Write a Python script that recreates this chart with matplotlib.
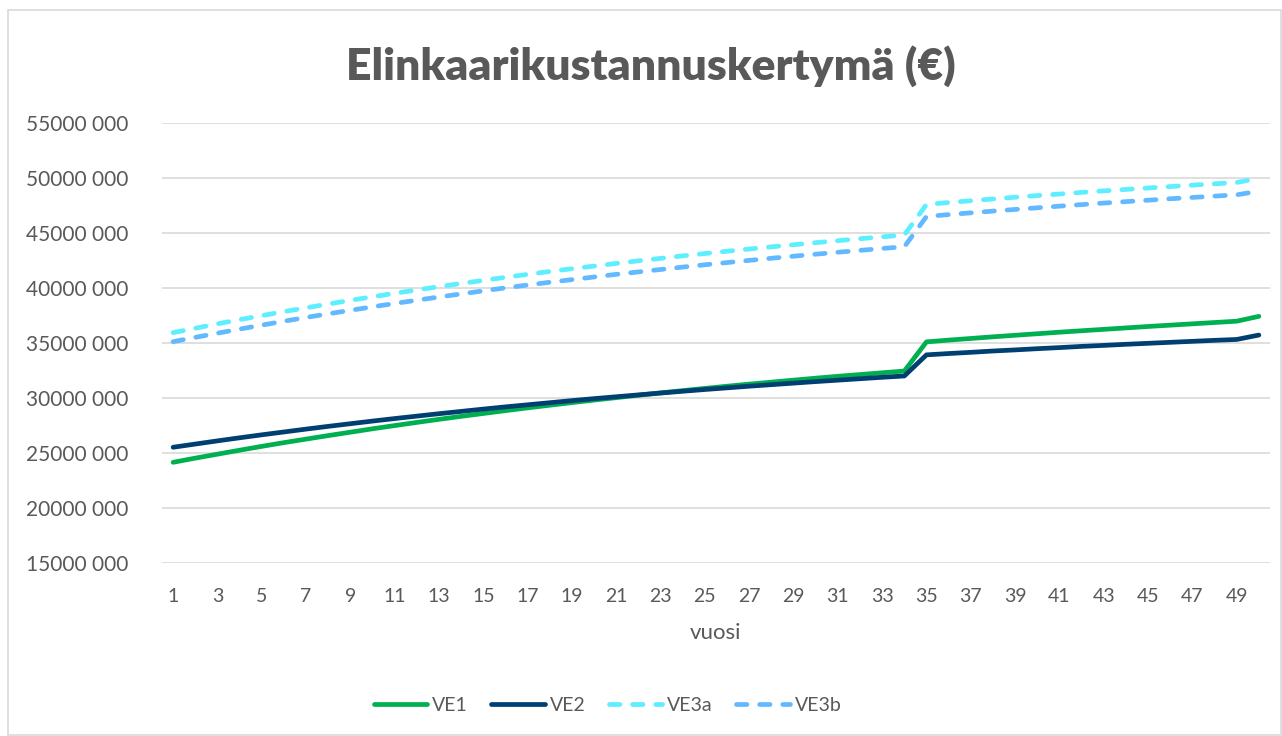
import matplotlib
matplotlib.use("Agg")
import matplotlib.pyplot as plt
from matplotlib.ticker import FuncFormatter, MultipleLocator
from matplotlib.patches import Rectangle

# vuosi 1..50, kertymä miljoonina euroina
years = list(range(1, 51))

VE1 = [24.15, 24.53, 24.89, 25.25, 25.60, 25.94, 26.26, 26.58, 26.89, 27.20,
       27.49, 27.78, 28.06, 28.33, 28.59, 28.85, 29.10, 29.34, 29.58, 29.81,
       30.03, 30.25, 30.46, 30.67, 30.87, 31.07, 31.26, 31.44, 31.62, 31.80,
       31.97, 32.13, 32.29, 32.45, 35.10, 35.26, 35.41, 35.56, 35.70, 35.84,
       35.98, 36.11, 36.24, 36.37, 36.50, 36.62, 36.74, 36.86, 36.98, 37.42]

VE2 = [25.52, 25.81, 26.10, 26.38, 26.65, 26.91, 27.17, 27.42, 27.66, 27.90,
       28.13, 28.35, 28.57, 28.78, 28.99, 29.19, 29.38, 29.57, 29.76, 29.94,
       30.11, 30.28, 30.45, 30.61, 30.77, 30.92, 31.07, 31.21, 31.35, 31.49,
       31.62, 31.75, 31.88, 32.00, 33.92, 34.04, 34.15, 34.27, 34.37, 34.48,
       34.58, 34.69, 34.78, 34.88, 34.97, 35.06, 35.15, 35.24, 35.32, 35.72]

VE3a = [35.94, 36.34, 36.74, 37.12, 37.49, 37.85, 38.20, 38.54, 38.88, 39.20,
        39.52, 39.82, 40.12, 40.41, 40.69, 40.97, 41.24, 41.50, 41.75, 41.99,
        42.23, 42.47, 42.69, 42.92, 43.13, 43.34, 43.54, 43.74, 43.93, 44.12,
        44.30, 44.48, 44.65, 44.82, 47.60, 47.77, 47.93, 48.09, 48.25, 48.40,
        48.54, 48.69, 48.83, 48.96, 49.09, 49.22, 49.35, 49.47, 49.59, 49.97]

VE3b = [35.12, 35.51, 35.89, 36.26, 36.62, 36.98, 37.32, 37.65, 37.97, 38.29,
        38.59, 38.89, 39.18, 39.46, 39.74, 40.01, 40.27, 40.52, 40.76, 41.00,
        41.24, 41.46, 41.68, 41.90, 42.11, 42.31, 42.51, 42.70, 42.89, 43.07,
        43.25, 43.42, 43.59, 43.75, 46.50, 46.67, 46.83, 46.99, 47.14, 47.29,
        47.44, 47.58, 47.72, 47.85, 47.98, 48.11, 48.23, 48.35, 48.47, 48.80]

series = [("VE1", VE1, "#00B050", "-"),
          ("VE2", VE2, "#003F71", "-"),
          ("VE3a", VE3a, "#5DEEFF", "--"),
          ("VE3b", VE3b, "#63B9FF", "--")]

plt.rcParams['font.family'] = ['Lato', 'DejaVu Sans']
grey = "#595959"

fig = plt.figure(figsize=(12.82, 7.36), dpi=100)
ax = fig.add_axes([0.1264, 0.2351, 0.8642, 0.5978])

for name, vals, col, ls in series:
    y = [v * 1e6 for v in vals]
    ax.plot(years, y, color=col, ls=ls, lw=3.4, label=name,
            solid_capstyle='round', dash_capstyle='round',
            solid_joinstyle='round', dashes=(2.2, 2.7) if ls == "--" else (None, None))

ax.set_xlim(0.5, 50.5)
ax.set_ylim(15e6, 55e6)
ax.yaxis.set_major_locator(MultipleLocator(5e6))
ax.yaxis.set_major_formatter(FuncFormatter(lambda v, p: "%d 000" % (v / 1000)))
ax.set_xticks(years[::2])
ax.grid(axis='y', color="#D9D9D9", lw=1.2)
ax.set_axisbelow(True)
for s in ax.spines.values():
    s.set_visible(False)
ax.tick_params(axis='both', length=0, labelsize=14, labelcolor=grey)
ax.tick_params(axis='y', labelsize=15, pad=24)
ax.tick_params(axis='x', pad=18)
ax.set_xlabel("vuosi", fontsize=16, color=grey, labelpad=13)

fig.text(0.508, 0.91, "Elinkaarikustannuskertymä (€)", ha='center', va='center',
         fontsize=32, fontweight='heavy', color=grey)

leg = fig.legend(loc='center', bbox_to_anchor=(0.474, 0.042), ncol=4, frameon=False,
                 fontsize=14, handlelength=2.75, columnspacing=1.2, handletextpad=0.25)
for t in leg.get_texts():
    t.set_color(grey)

fig.patches.append(Rectangle((8 / 1282, 0.002), 1 - 9 / 1282, 0.985,
                             transform=fig.transFigure, fill=False,
                             edgecolor="#D9D9D9", lw=1.2))

fig.savefig("out.png", dpi=100)
